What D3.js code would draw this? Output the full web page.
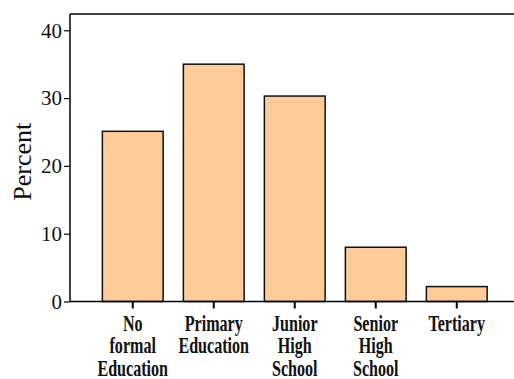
<!DOCTYPE html>
<html>
<head>
<meta charset="utf-8">
<script src="https://cdn.jsdelivr.net/npm/d3@7"></script>
<style>
  body { margin: 0; background: #fff; }
  svg { display: block; }
</style>
</head>
<body>
<svg id="chart" width="514" height="379"></svg>
<script>
const categories = [['No', 'formal', 'Education'], ['Primary', 'Education'], ['Junior', 'High', 'School'], ['Senior', 'High', 'School'], ['Tertiary']];
const values = [25.1, 35.0, 30.3, 8.0, 2.2];
const yTicks = [0, 10, 20, 30, 40];

const svg = d3.select('#chart');
const width = +svg.attr('width');
const plotLeft = 70, plotBottom = 301.5, plotTop = 14;

const keys = categories.map(d => d.join(' '));

const x = d3.scaleBand()
    .domain(keys)
    .range([92.25, 497.25])
    .paddingInner(0.25)
    .paddingOuter(0.125);

const y = d3.scaleLinear()
    .domain([0, 42.4])
    .range([plotBottom, plotTop]);

// bars
svg.selectAll('.bar')
    .data(values).enter()
    .append('rect')
    .attr('class', 'bar')
    .attr('x', (d, i) => x(keys[i]))
    .attr('y', d => y(d))
    .attr('width', x.bandwidth())
    .attr('height', d => y(0) - y(d))
    .attr('fill', '#ffcc99')
    .attr('stroke', '#111')
    .attr('stroke-width', 1.5);

// frame: left axis line, top line, bottom line
svg.append('line').attr('x1', plotLeft).attr('x2', plotLeft).attr('y1', plotTop).attr('y2', plotBottom)
    .attr('stroke', '#000').attr('stroke-width', 1.5);
svg.append('line').attr('x1', plotLeft).attr('x2', width).attr('y1', plotTop).attr('y2', plotTop)
    .attr('stroke', '#000').attr('stroke-width', 1.5);
svg.append('line').attr('x1', plotLeft).attr('x2', width).attr('y1', plotBottom).attr('y2', plotBottom)
    .attr('stroke', '#000').attr('stroke-width', 1.5);

// y axis
const yAxis = svg.append('g')
    .attr('transform', `translate(${plotLeft},0)`)
    .call(d3.axisLeft(y).tickValues(yTicks).tickSize(6).tickPadding(2));
yAxis.select('.domain').remove();
yAxis.selectAll('line').attr('stroke', '#000').attr('stroke-width', 1.2);
yAxis.selectAll('text')
    .attr('fill', '#111')
    .style('font-family', '"Liberation Serif", "Times New Roman", serif')
    .style('font-size', '21px');

// x ticks
svg.selectAll('.xtick')
    .data(keys).enter()
    .append('line')
    .attr('x1', d => x(d) + x.bandwidth() / 2)
    .attr('x2', d => x(d) + x.bandwidth() / 2)
    .attr('y1', plotBottom)
    .attr('y2', plotBottom + 7)
    .attr('stroke', '#000')
    .attr('stroke-width', 2);

// x labels (condensed bold serif)
const lab = svg.selectAll('.xlab')
    .data(categories).enter()
    .append('text')
    .attr('class', 'xlab')
    .attr('transform', (d, i) => `translate(${x(keys[i]) + x.bandwidth() / 2},330.5) scale(0.7,1)`)
    .attr('text-anchor', 'middle')
    .style('font-family', '"Liberation Serif", "Times New Roman", serif')
    .style('font-weight', 'bold')
    .style('font-size', '23px')
    .attr('fill', '#111');
lab.selectAll('tspan')
    .data(d => d).enter()
    .append('tspan')
    .attr('x', 0)
    .attr('y', (d, i) => i * 23)
    .text(d => d);

// y label
svg.append('text')
    .attr('transform', `translate(31,${(plotTop + plotBottom) / 2 + 4}) rotate(-90)`)
    .attr('text-anchor', 'middle')
    .style('font-family', '"Liberation Serif", "Times New Roman", serif')
    .style('font-size', '26px')
    .attr('fill', '#111')
    .text('Percent');
</script>
</body>
</html>
